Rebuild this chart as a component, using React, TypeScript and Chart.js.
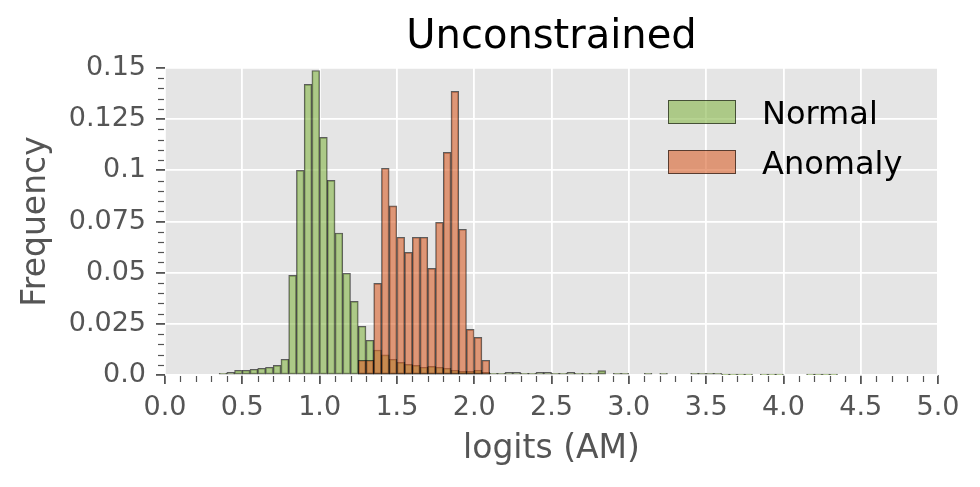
import React, { useEffect, useRef } from "react";
import { Chart, registerables } from "chart.js";

Chart.register(...registerables);

const BIN_WIDTH = 0.05;

// Normal histogram, bins of width 0.05 starting at 0.35
const normalStart = 0.35;
const normalFreq = [
  0.0008, 0.0013, 0.0023, 0.0023, 0.0028, 0.0033, 0.0038, 0.0047, 0.0077, 0.0487,
  0.1, 0.142, 0.1488, 0.1161, 0.0951, 0.0694, 0.0497, 0.036, 0.0238, 0.017,
  0.0122, 0.0098, 0.0077, 0.0062, 0.0052, 0.0047, 0.0038, 0.0042, 0.0038, 0.0033,
  0.0023, 0.0018, 0.0018, 0.0023, 0.0013, 0.0008, 0.0008, 0.0013, 0.0013, 0.0008,
  0.0008, 0.0013, 0.0013, 0.0008, 0.0008, 0.0013, 0.0008, 0.0008, 0.0008, 0.0021,
  0, 0.0008, 0.0008, 0, 0, 0.0008, 0, 0.0008, 0, 0,
  0, 0.0008, 0.0008, 0.0008, 0.0008, 0.0002, 0.0002, 0.0002, 0.0002, 0,
  0.0002, 0.0002, 0.0002, 0, 0, 0, 0.0002, 0.0002, 0.0002, 0.0002,
];

// Anomaly histogram, bins of width 0.05 starting at 1.25
const anomalyStart = 1.25;
const anomalyFreq = [
  0.0072, 0.0072, 0.0448, 0.101, 0.0826, 0.0673, 0.0599, 0.0673, 0.0673, 0.0521,
  0.0746, 0.1088, 0.1386, 0.0712, 0.0223, 0.0184, 0.0072,
];

const xTicks = [0, 0.5, 1, 1.5, 2, 2.5, 3, 3.5, 4, 4.5, 5];
const yTickLabels = ["0.0", "0.025", "0.05", "0.075", "0.1", "0.125", "0.15"];

const FONT = "'DejaVu Sans', sans-serif";

function toPoints(start: number, vals: number[]) {
  const pts: { x: number; y: number }[] = [];
  vals.forEach((v, i) => {
    if (v > 0) pts.push({ x: +(start + i * BIN_WIDTH + BIN_WIDTH / 2).toFixed(4), y: v });
  });
  return pts;
}

const bgPlugin = {
  id: "bgPlugin",
  beforeDraw(chart: any) {
    const { ctx, chartArea } = chart;
    ctx.save();
    ctx.fillStyle = "#E5E5E5";
    ctx.fillRect(chartArea.left, chartArea.top, chartArea.right - chartArea.left, chartArea.bottom - chartArea.top);
    ctx.restore();
  },
};

const minorTicks = {
  id: "minorTicks",
  afterDraw(chart: any) {
    const { ctx, chartArea, scales } = chart;
    ctx.save();
    ctx.strokeStyle = "#555";
    ctx.lineWidth = 1.2;
    for (let i = 0; i <= 50; i++) {
      if (i % 5 === 0) continue;
      const x = Math.round(scales.x.getPixelForValue(i / 10)) + 0.5;
      ctx.beginPath();
      ctx.moveTo(x, chartArea.bottom + 1);
      ctx.lineTo(x, chartArea.bottom + 7);
      ctx.stroke();
    }
    for (let i = 0; i <= 30; i++) {
      if (i % 5 === 0) continue;
      const y = Math.round(scales.y.getPixelForValue(i * 0.005)) + 0.5;
      ctx.beginPath();
      ctx.moveTo(chartArea.left - 1, y);
      ctx.lineTo(chartArea.left - 7, y);
      ctx.stroke();
    }
    ctx.restore();
  },
};

const legendPlugin = {
  id: "boxLegend",
  afterDraw(chart: any) {
    const { ctx, chartArea } = chart;
    const items = [chart.data.datasets[1], chart.data.datasets[0]];
    ctx.save();
    const bx = chartArea.right - 270;
    items.forEach((ds: any, i: number) => {
      const top = chartArea.top + 32 + i * 50;
      ctx.fillStyle = ds.backgroundColor;
      ctx.fillRect(bx, top, 68, 24);
      ctx.strokeStyle = ds.borderColor;
      ctx.lineWidth = 1;
      ctx.strokeRect(bx + 0.5, top + 0.5, 67, 23);
      ctx.fillStyle = "#000";
      ctx.font = `32px ${FONT}`;
      ctx.textBaseline = "alphabetic";
      ctx.textAlign = "left";
      ctx.fillText(ds.label, bx + 94, top + 24);
    });
    ctx.restore();
  },
};

export default function App() {
  const ref = useRef<HTMLCanvasElement | null>(null);
  useEffect(() => {
    document.body.style.margin = "0";
    const canvas = ref.current!;
    const chart = new Chart(canvas, {
      type: "bar",
      data: {
        datasets: [
          {
            label: "Anomaly",
            data: toPoints(anomalyStart, anomalyFreq) as any,
            backgroundColor: "rgba(217,97,44,0.6)",
            borderColor: "rgba(0,0,0,0.6)",
            borderWidth: 1,
            borderSkipped: false,
            barPercentage: 1,
            categoryPercentage: 1,
            grouped: false,
            order: 0,
          } as any,
          {
            label: "Normal",
            data: toPoints(normalStart, normalFreq) as any,
            backgroundColor: "rgba(134,181,71,0.6)",
            borderColor: "rgba(0,0,0,0.6)",
            borderWidth: 1,
            borderSkipped: false,
            barPercentage: 1,
            categoryPercentage: 1,
            grouped: false,
            order: 1,
          } as any,
        ],
      },
      options: {
        responsive: false,
        animation: false,
        devicePixelRatio: 1,
        layout: { padding: { left: 0, right: 42, top: 0, bottom: 0 } },
        plugins: {
          legend: { display: false },
          tooltip: { enabled: false },
          title: {
            display: true,
            text: "Unconstrained",
            fullSize: false,
            color: "#000",
            font: { family: FONT, size: 40, weight: "normal" },
            padding: { top: 14, bottom: 6 },
          } as any,
        },
        scales: {
          x: {
            type: "linear",
            min: 0,
            max: 5,
            offset: false,
            afterBuildTicks: (s: any) => {
              s.ticks = xTicks.map((v) => ({ value: v }));
            },
            ticks: {
              font: { family: FONT, size: 27 },
              color: "#555",
              padding: 8,
              maxRotation: 0,
              autoSkip: false,
              callback: (v: any) => Number(v).toFixed(1),
            },
            grid: { offset: false, color: "#fff", lineWidth: 1.8, drawTicks: true, tickLength: 9, tickColor: "#555", tickWidth: 1.8 },
            border: { display: false },
            title: {
              display: true,
              text: "logits (AM)",
              color: "#555",
              font: { family: FONT, size: 33 },
              padding: { top: 0, bottom: 18 },
            },
            afterFit: (s: any) => {
              s.height = 112;
            },
          } as any,
          y: {
            type: "linear",
            min: 0,
            max: 0.15,
            afterBuildTicks: (s: any) => {
              s.ticks = yTickLabels.map((_, i) => ({ value: i * 0.025 }));
            },
            ticks: {
              font: { family: FONT, size: 27 },
              color: "#555",
              padding: 10,
              autoSkip: false,
              callback: (_v: any, i: number) => yTickLabels[i],
            },
            grid: { offset: false, color: "#fff", lineWidth: 1.8, drawTicks: true, tickLength: 9, tickColor: "#555", tickWidth: 1.8 },
            border: { display: false },
            title: {
              display: true,
              text: "Frequency",
              color: "#555",
              font: { family: FONT, size: 33 },
              padding: { top: 17, bottom: 0 },
            },
            afterFit: (s: any) => {
              s.width = 165;
            },
          } as any,
        },
      },
      plugins: [bgPlugin, minorTicks, legendPlugin],
    });
    return () => chart.destroy();
  }, []);
  return <canvas ref={ref} width={980} height={487} style={{ display: "block", width: 980, height: 487 }} />;
}
